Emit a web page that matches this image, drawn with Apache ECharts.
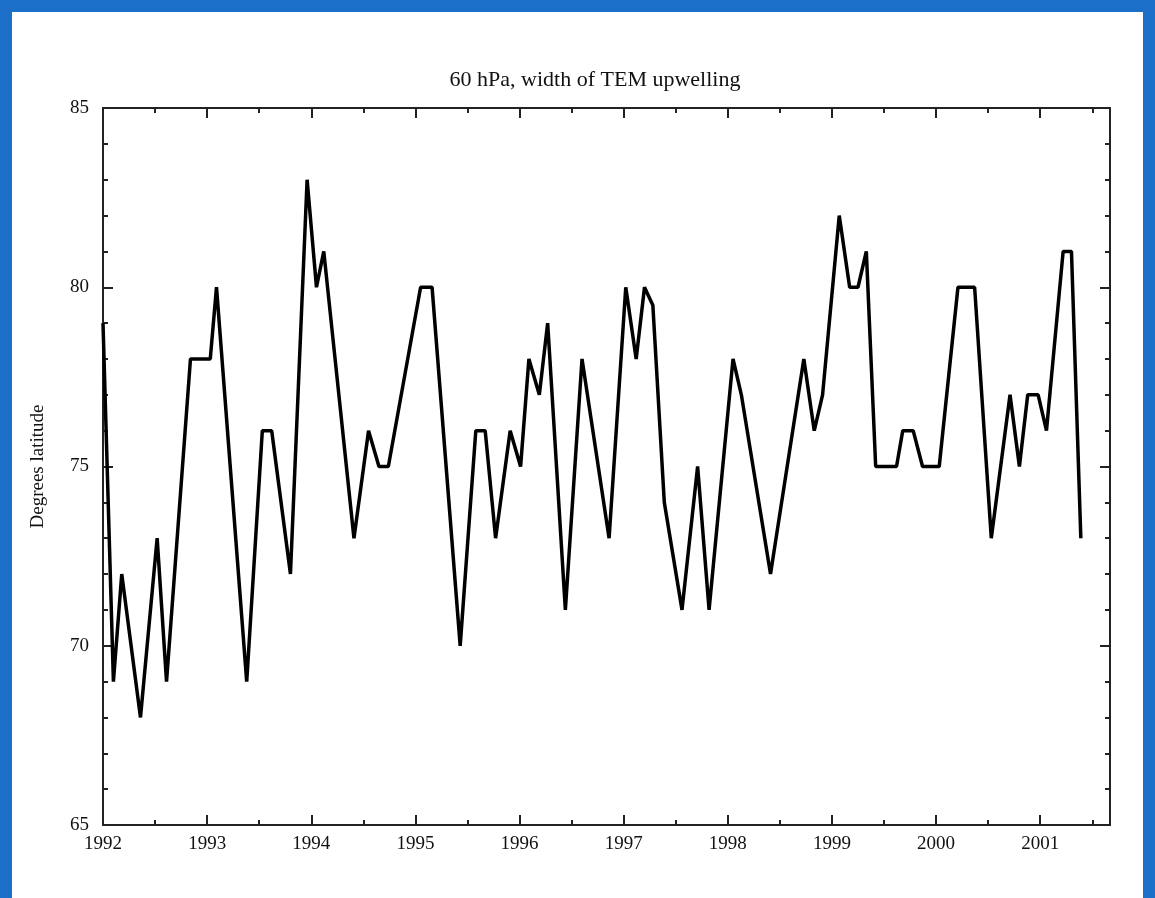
<!DOCTYPE html>
<html>
<head>
<meta charset="utf-8">
<script src="https://cdn.jsdelivr.net/npm/echarts@6/dist/echarts.min.js"></script>
<style>
  html, body { margin: 0; padding: 0; background: #1c6fc8; }
  #frame { position: absolute; left: 12px; top: 12px; width: 1131px; height: 886px; background: #fff; }
  #chart { position: absolute; left: -12px; top: -12px; width: 1155px; height: 898px; }
</style>
</head>
<body>
<div id="frame"><div id="chart"></div></div>
<script>
// decimal years
const times = [1992.00, 1992.10, 1992.18, 1992.36, 1992.52, 1992.61, 1992.84, 1993.03, 1993.09, 1993.38,
  1993.53, 1993.62, 1993.80, 1993.96, 1994.05, 1994.12, 1994.41, 1994.55, 1994.65, 1994.74,
  1995.05, 1995.16, 1995.43, 1995.58, 1995.67, 1995.77, 1995.91, 1996.01, 1996.09, 1996.19,
  1996.27, 1996.44, 1996.60, 1996.86, 1997.02, 1997.12, 1997.20, 1997.28, 1997.39, 1997.56,
  1997.71, 1997.82, 1998.05, 1998.13, 1998.41, 1998.73, 1998.83, 1998.91, 1999.07, 1999.17,
  1999.25, 1999.33, 1999.42, 1999.62, 1999.68, 1999.78, 1999.87, 2000.03, 2000.21, 2000.37,
  2000.53, 2000.71, 2000.80, 2000.88, 2000.98, 2001.06, 2001.22, 2001.30, 2001.39]
const latitude = [79, 69, 72, 68, 73, 69, 78, 78, 80, 69,
  76, 76, 72, 83, 80, 81, 73, 76, 75, 75,
  80, 80, 70, 76, 76, 73, 76, 75, 78, 77,
  79, 71, 78, 73, 80, 78, 80, 79.5, 74, 71,
  75, 71, 78, 77, 72, 78, 76, 77, 82, 80,
  80, 81, 75, 75, 76, 76, 75, 75, 80, 80,
  73, 77, 75, 77, 77, 76, 81, 81, 73]
const yearTicks = [1992, 1993, 1994, 1995, 1996, 1997, 1998, 1999, 2000, 2001]

const font = 'Liberation Serif'
const chart = echarts.init(document.getElementById('chart'))

const axisLine = { show: true, lineStyle: { color: '#222', width: 2 } }
const ticks = { show: true, inside: true, length: 10, lineStyle: { color: '#222', width: 2 } }
const minor = { show: true, splitNumber: 2, length: 5, lineStyle: { color: '#222', width: 2 } }

chart.setOption({
  animation: false,
  title: {
    text: '60 hPa, width of TEM upwelling',
    left: 590, top: 64, textAlign: 'center',
    textStyle: { fontFamily: font, fontSize: 22, fontWeight: 'normal', color: '#111' }
  },
  grid: { left: 103, right: 45, top: 108, bottom: 73 },
  xAxis: [{
    type: 'value', min: 1992, max: 2001.67, interval: 1,
    axisLine, axisTick: ticks, minorTick: minor, splitLine: { show: false },
    axisLabel: {
      fontFamily: font, fontSize: 19, color: '#111', margin: 10, showMaxLabel: false,
      formatter: v => yearTicks.includes(v) ? String(v) : ''
    }
  }, {
    type: 'value', position: 'top', min: 1992, max: 2001.67, interval: 1,
    axisLine, axisTick: ticks, minorTick: minor, splitLine: { show: false }, axisLabel: { show: false }
  }],
  yAxis: [{
    type: 'value', min: 65, max: 85, interval: 5,
    name: 'Degrees latitude', nameLocation: 'middle', nameGap: 55,
    nameTextStyle: { fontFamily: font, fontSize: 19, color: '#111' },
    axisLine, axisTick: ticks, minorTick: { ...minor, splitNumber: 5 }, splitLine: { show: false },
    axisLabel: { fontFamily: font, fontSize: 19, color: '#111', margin: 14 }
  }, {
    type: 'value', position: 'right', min: 65, max: 85, interval: 5,
    axisLine, axisTick: ticks, minorTick: { ...minor, splitNumber: 5 }, splitLine: { show: false },
    axisLabel: { show: false }
  }],
  series: [{
    type: 'line', symbol: 'none',
    data: times.map((t, i) => [t, latitude[i]]),
    lineStyle: { color: '#000', width: 3.5 }
  }]
})
</script>
</body>
</html>
